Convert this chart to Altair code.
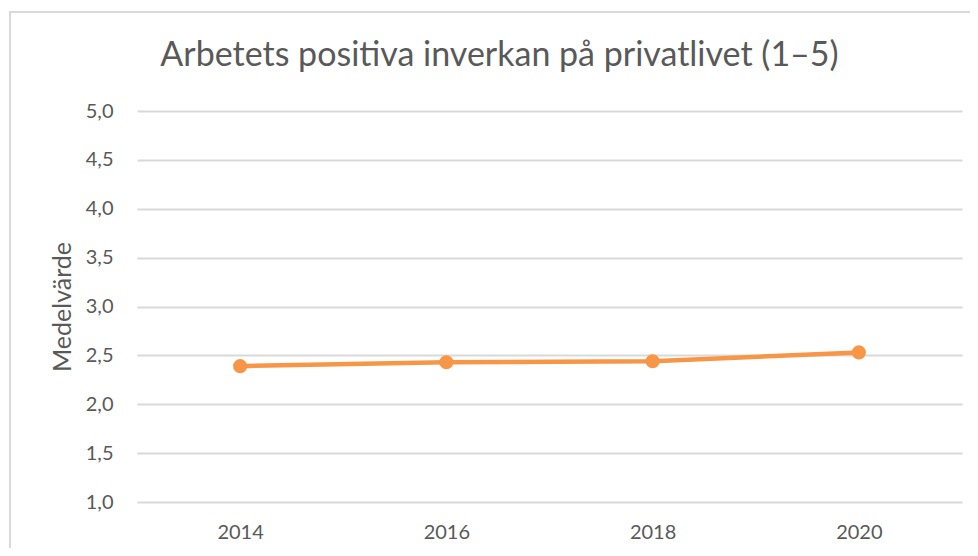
import altair as alt
import pandas as pd

years = ["2014", "2016", "2018", "2020"]
values = [2.39, 2.43, 2.44, 2.53]
y_ticks = [1.0, 1.5, 2.0, 2.5, 3.0, 3.5, 4.0, 4.5, 5.0]

df = pd.DataFrame({"year": years, "value": values})

FONT = "Lato"
GREY = "#595959"
ORANGE = "#F79646"

x = alt.X("year:N", sort=years, title=None,
          scale=alt.Scale(type="point", padding=0.5),
          axis=alt.Axis(labelAngle=0, ticks=False, domain=False, grid=False,
                        labelPadding=20, labelFontSize=20, labelColor=GREY, labelFont=FONT))
y = alt.Y("value:Q", title="Medelvärde",
          scale=alt.Scale(domain=[1, 5], nice=False, zero=False),
          axis=alt.Axis(values=y_ticks, ticks=False, domain=False, grid=True,
                        gridColor="#D9D9D9", gridWidth=2,
                        labelExpr="replace(format(datum.value, '.1f'), '.', ',')",
                        labelPadding=24, labelFontSize=20, labelColor=GREY, labelFont=FONT,
                        titleFontSize=25, titleColor=GREY, titleFont=FONT, titleFontWeight="normal",
                        titlePadding=10))

border = alt.Chart(df).mark_rect(fill=None, stroke="#D9D9D9", strokeWidth=1.5).encode(
    x=alt.value(-127), x2=alt.value(1200), y=alt.value(-99), y2=alt.value(1200)
)

line = alt.Chart(df).mark_line(color=ORANGE, strokeWidth=4.5).encode(x=x, y=y)
points = alt.Chart(df).mark_point(color=ORANGE, filled=True, opacity=1, size=200).encode(x=x, y=y)

chart = alt.layer(border, line, points).properties(
    width=825, height=391,
    autosize=alt.AutoSizeParams(type="none"),
    padding={"left": 129, "top": 103, "right": 8, "bottom": 46},
    title=alt.TitleParams("Arbetets positiva inverkan på privatlivet (1–5)",
                          font=FONT, fontSize=34, fontWeight="normal", color=GREY,
                          anchor="middle", frame="group", dx=-50, offset=-89,
                          baseline="alphabetic"),
).configure_view(stroke=None)

chart.save("out.html", embed_options={"renderer": "svg", "actions": False})
